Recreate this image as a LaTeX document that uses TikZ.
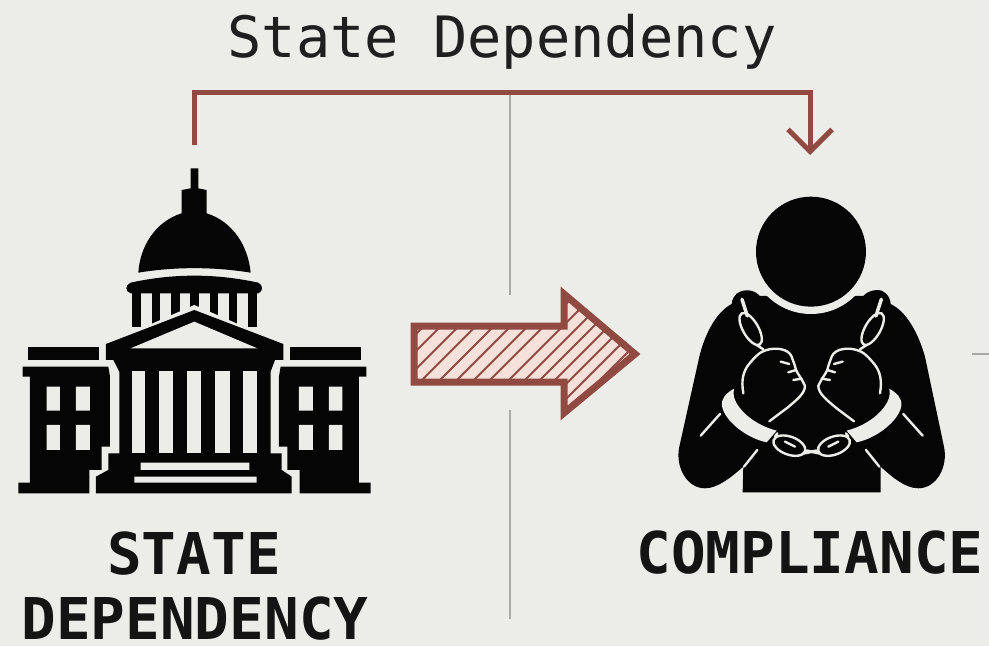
\documentclass[tikz,border=0pt]{standalone}
\usepackage{fontspec}
\setmonofont{DejaVu Sans Mono}
\usetikzlibrary{arrows.meta}
\definecolor{paper}{HTML}{ECECE8}
\definecolor{rust}{HTML}{904A42}
\definecolor{blush}{HTML}{F6E0DA}
\definecolor{rulegray}{HTML}{A8A8A4}
\definecolor{ink}{HTML}{050505}
\tikzset{
  titletext/.style={font=\ttfamily\fontsize{57}{60}\selectfont,text=black!88,inner sep=0pt,anchor=center},
  labeltext/.style={font=\ttfamily\bfseries\fontsize{57.6}{60}\selectfont,text=black!92,inner sep=0pt,anchor=center},
  rustline/.style={draw=rust,line width=5pt},
  divider/.style={draw=rulegray,line width=2.5pt},
  gapline/.style={draw=paper,line width=2.4pt,line cap=round,line join=round},
  zoomed/.style={x=0.3333pt,y=-0.3333pt},
  pics/wing/.style={code={
    \fill[ink] (85,592) rectangle (298,630);
    \fill[ink] (68,650) -- (325,650) -- (330,680) -- (330,890) -- (305,890) -- (305,960) -- (268,960) -- (268,1030) -- (55,1030) -- (55,998) -- (90,998) -- (90,680) -- (68,680) -- cycle;
    \fill[paper] (140,710) rectangle (180,782) (228,710) rectangle (270,782) (140,825) rectangle (180,900) (228,825) rectangle (270,900);
  }},
  pics/personhalf/.style={code={
    % fist
    \draw[gapline] (250,640) .. controls (243,600) and (250,575) .. (265,555) .. controls (285,530) and (300,515) .. (320,510) .. controls (345,502) and (385,505) .. (395,530) .. controls (400,545) and (405,555) .. (408,570) .. controls (415,585) and (425,595) .. (435,618) .. controls (435,640) and (410,660) .. (380,685) -- (328,724);
    \draw[gapline] (362,545) -- (388,552);
    \draw[gapline] (385,577) -- (408,570);
    \draw[gapline] (400,600) -- (425,596);
    % cuff
    \fill[paper] (222,626) .. controls (198,640) and (183,655) .. (186,678) .. controls (193,722) and (260,775) .. (320,787) -- (350,752) .. controls (310,742) and (265,718) .. (238,682) .. controls (222,660) and (218,645) .. (222,626) -- cycle;
    % arm lines
    \draw[gapline] (180,702) -- (122,767);
    \draw[gapline] (292,810) -- (252,860);
    % upper chain
    \draw[gapline,rotate around={30:(272,447)}] (272,447) ellipse [x radius=23,y radius=54];
    \draw[gapline,line width=3.5pt] (246,358) -- (262,408);
    \draw[gapline] (290,495) -- (310,508);
    % lower chain
    \draw[gapline,rotate around={-20:(388,797)}] (388,797) ellipse [x radius=50,y radius=27];
    \draw[gapline] (375,785) -- (405,800);
    \draw[gapline] (345,770) -- (352,760);
    \draw[gapline,line width=2.8pt] (432,820) -- (470,812);
  }}
}
\begin{document}
\begin{tikzpicture}[x=1pt,y=-1pt]
\useasboundingbox (0,0) rectangle (989,646);
\fill[paper] (0,0) rectangle (989,646);

% dividers
\coordinate (railcross) at (510,92);
\coordinate (divAend) at (510,295);
\coordinate (divBstart) at (510,410);
\coordinate (divBend) at (510,619);
\coordinate (sideA) at (972,354);
\coordinate (sideB) at (989,354);
\draw[divider] (railcross) -- (divAend);
\draw[divider] (divBstart) -- (divBend);
\draw[divider] (sideA) -- (sideB);

% top connector
\coordinate (railstart) at (194,145);
\coordinate (railend) at (810,155);
\draw[rustline,-{Straight Barb[length=22pt,width=44pt,line width=5pt]}] (railstart) |- (railcross) -| (railend);

% building
\begin{scope}[shift={(0,150)},zoomed]
  \fill[ink] (572,55) -- (595,55) -- (595,115) -- (620,120) -- (620,190) .. controls (700,215) and (745,290) .. (752,368) .. controls (640,350) and (525,350) .. (415,368) .. controls (420,290) and (465,215) .. (545,190) -- (545,120) -- (572,115) -- cycle;
  \fill[ink] (392,398) .. controls (520,370) and (645,370) .. (775,398) .. controls (790,405) and (790,425) .. (775,430) -- (392,430) .. controls (375,425) and (375,405) .. (392,398) -- cycle;
  \foreach \a/\b in {395/422,455/480,512/540,570/597,630/655,688/712,745/770}
    \fill[ink] (\a,425) rectangle (\b,530);
  \fill[paper] (300,590) -- (583,465) -- (870,590) -- (870,640) -- (300,640) -- cycle;
  \fill[ink] (318,582) -- (583,480) -- (850,582) -- (850,630) -- (825,630) -- (812,665) -- (812,910) -- (845,910) -- (845,960) -- (875,980) -- (875,1030) -- (288,1030) -- (288,980) -- (325,960) -- (325,910) -- (358,910) -- (358,665) -- (340,630) -- (318,630) -- cycle;
  \fill[paper] (392,595) -- (583,515) -- (772,595) -- cycle;
  \foreach \a/\b in {395/435,478/520,562/603,645/690,730/770}
    \fill[paper] (\a,662) rectangle (\b,910);
  \fill[paper] (422,938) rectangle (748,960) (403,980) rectangle (770,998);
  \pic[transform shape] {wing};
  \begin{scope}[shift={(1167,0)},xscale=-1]
    \pic[transform shape] {wing};
  \end{scope}
\end{scope}

% big arrow
\path[fill=blush] (414,326) -- (564,326) -- (564,294) -- (635,354) -- (564,413) -- (564,382) -- (414,382) -- cycle;
\begin{scope}
  \clip (414,326) -- (564,326) -- (564,294) -- (635,354) -- (564,413) -- (564,382) -- (414,382) -- cycle;
  \foreach \s in {750,767,785,802,820,837,854,870,889,905,920,935,950,965,980}
    \draw[rust,line width=1.8pt] (\s-425,425) -- (\s-285,285);
\end{scope}
\draw[rust,line width=7pt,miter limit=6,fill=none] (414,326) -- (564,326) -- (564,294) -- (635,354) -- (564,413) -- (564,382) -- (414,382) -- cycle;

% person
\begin{scope}[shift={(660,180)},zoomed]
  \fill[ink] (240,335) .. controls (225,340) and (215,360) .. (215,372) .. controls (170,395) and (135,460) .. (118,530) -- (58,800) .. controls (45,860) and (80,925) .. (135,925) .. controls (175,925) and (215,890) .. (250,860) -- (248,937) -- (662,937) -- (662,860) .. controls (695,890) and (735,925) .. (775,925) .. controls (830,925) and (865,860) .. (852,800) -- (795,530) .. controls (775,460) and (740,395) .. (692,372) .. controls (692,360) and (685,340) .. (665,332) .. controls (640,325) and (615,340) .. (610,348) -- (300,348) .. controls (290,335) and (265,325) .. (240,335) -- cycle;
  \fill[paper] (453,215) circle [radius=187];
  \fill[ink] (453,215) circle [radius=165];
  \pic[transform shape] {personhalf};
  \begin{scope}[shift={(910,0)},xscale=-1]
    \pic[transform shape] {personhalf};
  \end{scope}
\end{scope}

% texts
\node[titletext] (title) at (502,42) {State Dependency};
\node[labeltext] (stateA) at (194,554) {STATE};
\node[labeltext] (stateB) at (195,619) {DEPENDENCY};
\node[labeltext] (comply) at (810,553) {COMPLIANCE};
\end{tikzpicture}
\end{document}
